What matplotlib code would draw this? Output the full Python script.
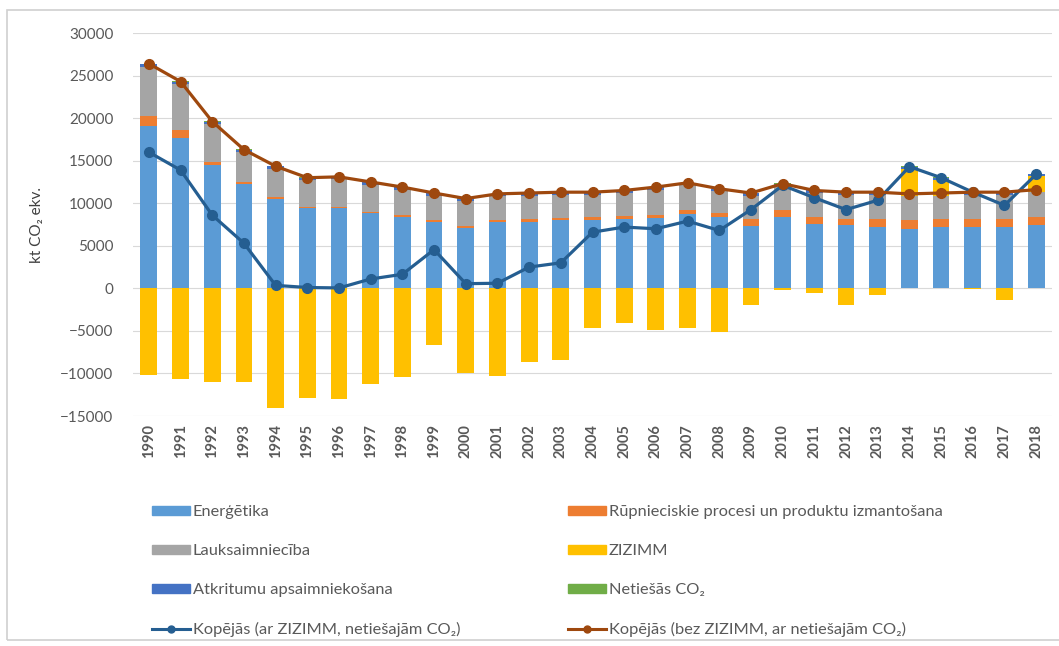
import matplotlib
matplotlib.use("Agg")
import matplotlib.pyplot as plt
import numpy as np
from matplotlib.patches import Patch, Rectangle
from matplotlib.lines import Line2D

plt.rcParams['font.family'] = ['Lato', 'DejaVu Sans']

years = list(range(1990, 2019))

# kt CO2 ekv.
energetika = [19100, 17700, 14500, 12300, 10550, 9400, 9400, 8800, 8400, 7800,
              7100, 7800, 7800, 8000, 8000, 8200, 8300, 8700, 8400, 7300,
              8400, 7600, 7400, 7150, 7000, 7150, 7200, 7150, 7400]
rupnieciba = [1100, 900, 400, 200, 150, 100, 100, 150, 200, 200,
              200, 200, 300, 300, 400, 300, 300, 550, 400, 800,
              800, 800, 800, 950, 1000, 950, 1000, 1050, 1000]
lauksaimnieciba = [5850, 5450, 4450, 3550, 3350, 3200, 3300, 3200, 3000, 2900,
                   2950, 2800, 2800, 2700, 2550, 2700, 2950, 2850, 2600, 2800,
                   2800, 2800, 2800, 2900, 2800, 2800, 2800, 2800, 2950]
zizimm = [-10200, -10700, -11000, -11000, -14000, -12900, -13000, -11200, -10400, -6700,
          -10000, -10350, -8700, -8400, -4600, -4100, -4900, -4600, -5100, -2000,
          -150, -600, -2000, -800, 3200, 1800, -50, -1400, 1800]
atkritumi = [300, 250, 250, 250, 300, 300, 300, 300, 300, 300,
             300, 300, 300, 300, 300, 300, 300, 300, 300, 300,
             300, 300, 300, 300, 300, 300, 300, 300, 250]
netiesas = [50, 50, 50, 40, 40, 40, 40, 40, 40, 40,
            30, 30, 30, 30, 30, 30, 30, 30, 30, 30,
            30, 30, 30, 30, 30, 30, 30, 30, 30]
kopejas_ar = [16000, 13900, 8600, 5300, 350, 100, 50, 1100, 1650, 4550,
              550, 600, 2500, 3000, 6600, 7200, 7000, 7900, 6800, 9250,
              12100, 10650, 9250, 10350, 14300, 13000, 11300, 9750, 13400]
kopejas_bez = [26400, 24300, 19600, 16300, 14350, 13000, 13100, 12500, 11900, 11200,
               10550, 11100, 11200, 11300, 11300, 11500, 11900, 12400, 11700, 11200,
               12300, 11500, 11300, 11300, 11100, 11200, 11300, 11300, 11600]

series = [
    ('Enerģētika', energetika, '#5B9BD5'),
    ('Rūpnieciskie procesi un produktu izmantošana', rupnieciba, '#ED7D31'),
    ('Lauksaimniecība', lauksaimnieciba, '#A5A5A5'),
    ('ZIZIMM', zizimm, '#FFC000'),
    ('Atkritumu apsaimniekošana', atkritumi, '#4472C4'),
    ('Netiešās CO₂', netiesas, '#70AD47'),
]
line_ar_color = '#255E91'
line_bez_color = '#9E480E'
text_color = '#595959'

fig = plt.figure(figsize=(10.59, 6.46), dpi=100)
fig.patches.append(Rectangle((7 / 1059, 6 / 646), 1.2, 1 - 16 / 646,
                             transform=fig.transFigure, fill=False,
                             edgecolor='#D0D0D0', linewidth=1.2))
ax = fig.add_axes([0.1256, 0.356, 0.8678, 0.5929])

x = np.arange(len(years))
pos_bottom = np.zeros(len(years))
neg_bottom = np.zeros(len(years))
for name, vals, color in series:
    vals = np.array(vals, dtype=float)
    bottom = np.where(vals >= 0, pos_bottom, neg_bottom)
    ax.bar(x, vals, 0.53, bottom=bottom, color=color, zorder=2)
    pos_bottom += np.where(vals >= 0, vals, 0)
    neg_bottom += np.where(vals < 0, vals, 0)

ax.plot(x, kopejas_ar, color=line_ar_color, lw=2.3, marker='o', ms=7, zorder=4)
ax.plot(x, kopejas_bez, color=line_bez_color, lw=2.3, marker='o', ms=7, zorder=4)

ax.set_xlim(-0.5, len(years) - 0.5)
ax.set_ylim(-15000, 30000)
ax.set_yticks(range(-15000, 30001, 5000))
ax.set_xticks(x)
ax.set_xticklabels([str(y) for y in years], rotation=90, fontsize=10.5,
                   fontweight='bold', color=text_color)
ax.tick_params(axis='y', labelsize=11, labelcolor=text_color, length=0, pad=14)
ax.tick_params(axis='x', length=0, pad=6)
ax.grid(axis='y', color='#D9D9D9', lw=0.8, zorder=0)
ax.set_axisbelow(True)
for s in ax.spines.values():
    s.set_visible(False)
ax.set_ylabel('kt CO₂ ekv.', fontsize=11, color='#404040', labelpad=12)

handles = [Patch(color=c) for _, _, c in series]
handles.append(Line2D([], [], color=line_ar_color, lw=2.2, marker='o', ms=5))
handles.append(Line2D([], [], color=line_bez_color, lw=2.2, marker='o', ms=5))
labels = [n for n, _, _ in series]
labels.append('Kopējās (ar ZIZIMM, netiešajām CO₂)')
labels.append('Kopējās (bez ZIZIMM, ar netiešajām CO₂)')

left_idx = [0, 2, 4, 6]
right_idx = [1, 3, 5, 7]
kw = dict(loc='upper left', frameon=False, fontsize=11.8, labelcolor=text_color,
          handlelength=2.3, handleheight=0.5, handletextpad=0.2,
          labelspacing=1.53, borderpad=0, borderaxespad=0)
fig.legend([handles[i] for i in left_idx], [labels[i] for i in left_idx],
           bbox_to_anchor=(152 / 1059, 1 - 505 / 646), **kw)
fig.legend([handles[i] for i in right_idx], [labels[i] for i in right_idx],
           bbox_to_anchor=(568 / 1059, 1 - 505 / 646), **kw)

fig.savefig('out.png', dpi=100)
